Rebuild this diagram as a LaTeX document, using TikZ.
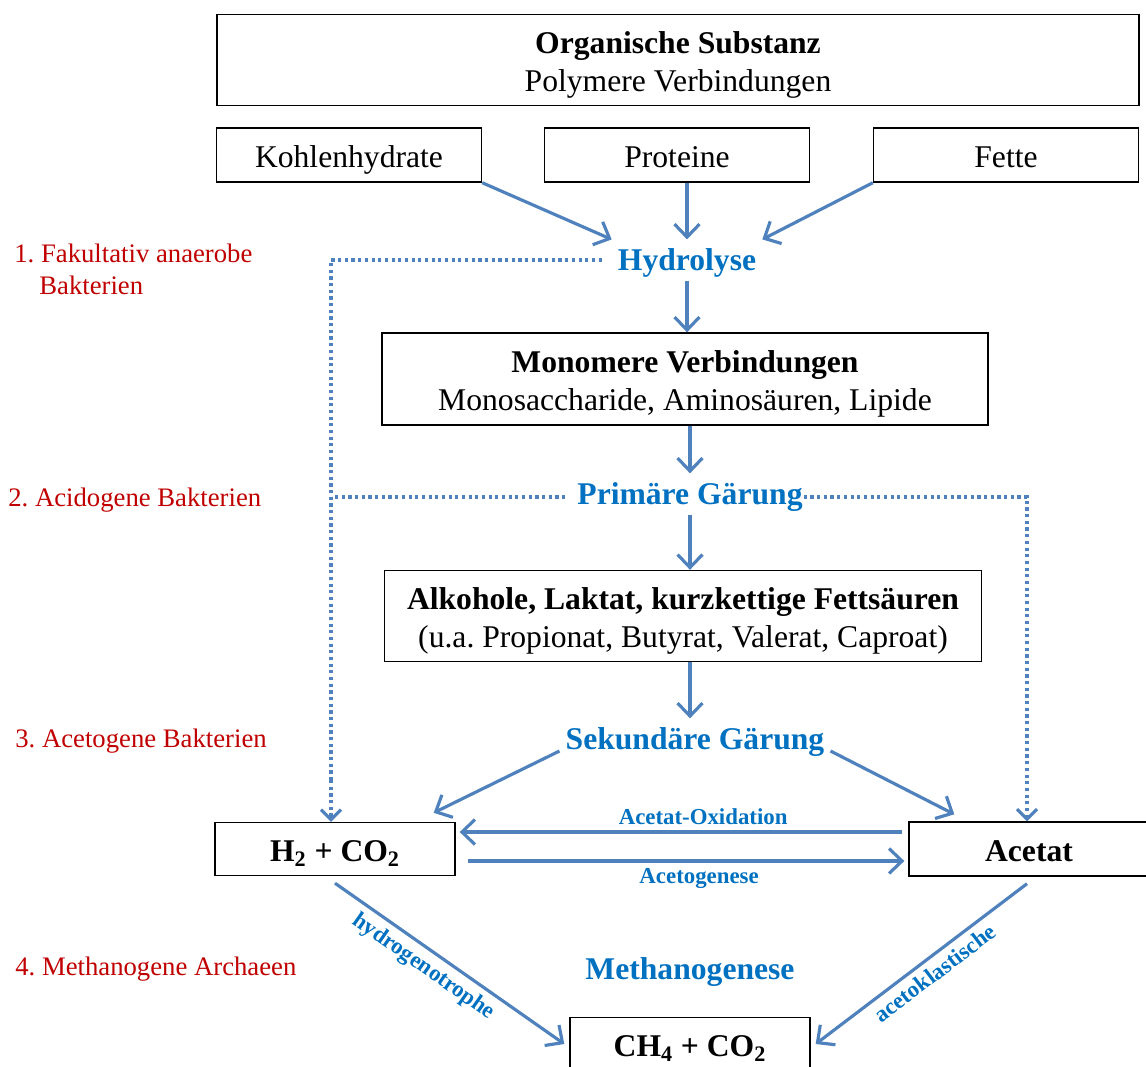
\documentclass[tikz,border=0pt]{standalone}
\usepackage{fontspec}
\setmainfont{Liberation Serif}
\usepackage{xcolor}
\usepackage{tikz}
\usetikzlibrary{arrows.meta}

\definecolor{flowblue}{RGB}{79,129,189}
\definecolor{stageblue}{RGB}{0,112,192}
\definecolor{groupred}{RGB}{192,0,0}
\newcommand{\firstline}{\rule{0pt}{0.98em}}
\frenchspacing

\begin{document}
\begin{tikzpicture}[
        x=0.02cm, y=-0.02cm,
        box/.style={
            rectangle,
            draw,
            line width=0.8pt,
            align=center,
            inner sep=0pt,
            font=\fontsize{18}{21.6}\selectfont
        },
        single/.style={
            rectangle,
            draw,
            line width=0.8pt,
            inner sep=0pt,
            text height=16pt,
            text depth=1.6pt,
            font=\fontsize{18}{21.6}\selectfont
        },
        stage/.style={
            text=stageblue,
            font=\fontsize{18}{21.6}\selectfont\bfseries
        },
        group/.style={
            text=groupred,
            anchor=west,
            inner sep=0pt,
            font=\fontsize{15.2}{19}\selectfont
        },
        tag/.style={
            text=stageblue,
            font=\fontsize{13}{15}\selectfont\bfseries
        },
        flow/.style={
            draw=flowblue,
            line width=1.8pt,
            -{Straight Barb[length=2.6mm, width=5mm]}
        },
        feed/.style={
            draw=flowblue,
            line width=1.8pt,
            dash pattern=on 1.8pt off 2pt
        }
    ]
    \useasboundingbox (0,0) rectangle (1146,1066);

    % Nodes
    \node[box, minimum width=18.44cm, minimum height=1.82cm] (substanz) at (678,60)
        {\firstline\textbf{Organische Substanz} \\ Polymere Verbindungen};
    \node[single, minimum width=5.3cm, minimum height=1.08cm] (kohlen) at (349,155) {Kohlenhydrate};
    \node[single, minimum width=5.3cm, minimum height=1.08cm] (proteine) at (677,155) {Proteine};
    \node[single, minimum width=5.3cm, minimum height=1.08cm] (fette) at (1006,155) {Fette};
    \node[stage] (hydro) at (687,263) {Hydrolyse};
    \node[box, minimum width=12.12cm, minimum height=1.84cm] (monomere) at (685,379)
        {\firstline\textbf{Monomere Verbindungen} \\ Monosaccharide, Aminosäuren, Lipide};
    \node[stage] (primaer) at (690,497) {Primäre Gärung};
    \node[box, minimum width=11.94cm, minimum height=1.82cm] (alkohole) at (683,616)
        {\firstline\textbf{Alkohole, Laktat, kurzkettige Fettsäuren} \\ (u.a. Propionat, Butyrat, Valerat, Caproat)};
    \node[stage] (sekundaer) at (695,742) {Sekundäre Gärung};
    \node[single, minimum width=4.8cm, minimum height=1.06cm, font=\fontsize{18}{21.6}\selectfont\bfseries] (wasserstoff) at (335,849)
        {H\textsubscript{2} + CO\textsubscript{2}};
    \node[single, minimum width=4.8cm, minimum height=1.08cm, font=\fontsize{18}{21.6}\selectfont\bfseries] (acetat) at (1029,849)
        {Acetat};
    \node[stage] (methano) at (690,972) {Methanogenese};
    \node[single, minimum width=4.8cm, minimum height=1.06cm, font=\fontsize{18}{21.6}\selectfont\bfseries] (methan) at (690,1044)
        {CH\textsubscript{4} + CO\textsubscript{2}};

    % Groups
    \node[group] (grp1) at (14,253) {1. Fakultativ anaerobe};
    \node[group] (grp1b) at (39,285) {Bakterien};
    \node[group] (grp2) at (8,500) {2. Acidogene Bakterien};
    \node[group] (grp3) at (15,741) {3. Acetogene Bakterien};
    \node[group] (grp4) at (15,969) {4. Methanogene Archaeen};

    % Arrows
    \draw[flow] (kohlen.south east) -- ([yshift=0.06cm]hydro.north west);
    \draw[flow] (proteine.south -| hydro) -- ([yshift=0.06cm]hydro.north);
    \draw[flow] (fette.south west) -- ([yshift=0.06cm]hydro.north east);
    \draw[flow] ([yshift=0.06cm]hydro.south) -- (hydro |- monomere.north);
    \draw[flow] (primaer |- monomere.south) -- ([yshift=0.06cm]primaer.north);
    \draw[flow] ([yshift=0.06cm]primaer.south) -- (primaer |- alkohole.north);
    \draw[flow] (690,0 |- alkohole.south) -- ([yshift=0.06cm]690,0 |- sekundaer.north);
    \draw[flow] ([yshift=-0.18cm]sekundaer.west) -- ([xshift=-0.44cm, yshift=0.18cm]wasserstoff.north east);
    \draw[flow] ([yshift=-0.18cm]sekundaer.east) -- ([xshift=0.92cm, yshift=0.14cm]acetat.north west);
    \draw[flow] ([xshift=-0.12cm, yshift=0.34cm]acetat.west) -- ([xshift=0.08cm, yshift=0.34cm]wasserstoff.east)
        node[tag, above, pos=0.45] {Acetat-Oxidation};
    \draw[flow] ([xshift=0.24cm, yshift=-0.24cm]wasserstoff.east) -- ([xshift=-0.08cm, yshift=-0.24cm]acetat.west)
        node[tag, below, pos=0.53] {Acetogenese};
    \draw[flow] ([yshift=-0.14cm]wasserstoff.south) -- ([xshift=-0.1cm]methan.west)
        node[tag, sloped, below, pos=0.43] {hydrogenotrophe};
    \draw[flow] ([xshift=-0.04cm, yshift=-0.14cm]acetat.south) -- ([xshift=0.1cm]methan.east)
        node[tag, sloped, below, pos=0.48] {acetoklastische};

    % Dotted
    \draw[feed] ([xshift=-0.2cm, yshift=0.06cm]hydro.west) -| (331,780);
    \draw[feed, -{Straight Barb[length=2mm, width=4mm]}] (331,780) -- (331,0 |- wasserstoff.north);
    \draw[feed] ([xshift=-0.12cm]primaer.west) -- (334,0 |- primaer.west);
    \draw[feed, -{Straight Barb[length=2mm, width=4mm]}] ([xshift=-0.1cm]primaer.east) -| ([xshift=-0.04cm]acetat.north);
\end{tikzpicture}
\end{document}
